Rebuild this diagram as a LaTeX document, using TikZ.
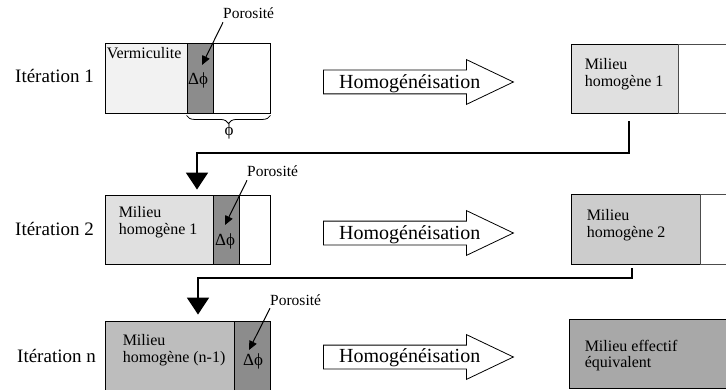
\documentclass[tikz,border=0pt]{standalone}
\usepackage{fontspec}
\setmainfont{Liberation Serif}
\usetikzlibrary{shapes.arrows,arrows.meta,decorations.pathreplacing,positioning}
\definecolor{vermi}{HTML}{F2F2F2}
\definecolor{pore}{HTML}{8C8C8C}
\definecolor{homa}{HTML}{E0E0E0}
\definecolor{homb}{HTML}{CCCCCC}
\definecolor{homn}{HTML}{BDBDBD}
\definecolor{eff}{HTML}{A8A8A8}
\tikzset{cell/.style={draw=black,line width=0.9pt,rectangle,inner sep=0pt}}
\tikzset{rest/.style={draw=black!70,line width=0.7pt,rectangle,inner sep=0pt,fill=white}}
\tikzset{iter/.style={font=\fontsize{19}{21}\selectfont,anchor=base west,inner sep=0pt}}
\tikzset{txt/.style={font=\fontsize{16}{16.5}\selectfont,align=left,anchor=north west,inner sep=0pt}}
\tikzset{dphi/.style={font=\fontsize{17}{18}\selectfont,anchor=base west,inner sep=0pt}}
\tikzset{poro/.style={font=\fontsize{15.5}{17}\selectfont,anchor=base west,inner sep=0pt}}
\tikzset{homog/.style={draw=black,line width=0.8pt,fill=white,single arrow,single arrow head extend=10.5pt,single arrow tip angle=51,minimum height=190pt,text height=11.5pt,text depth=11.5pt,inner sep=0pt,anchor=tail}}
\tikzset{homtxt/.style={font=\fontsize{20}{22}\selectfont,anchor=base west,inner sep=0pt}}
\tikzset{link/.style={line width=2pt,-{Triangle[length=17pt,width=22pt]}}}
\tikzset{pin/.style={line width=1pt,-{Triangle[length=9pt,width=8pt]}}}

\begin{document}
\begin{tikzpicture}[x=1pt,y=1pt]
    \useasboundingbox (0,0) rectangle (726,389);

    % iteration 1
    \node[iter] (it1) at (15,306) {Itération 1};
    \node[cell, fill=vermi, minimum width=82pt, minimum height=70pt] (verm1) at (146,311) {};
    \node[cell, fill=pore, minimum width=26pt, minimum height=70pt] (pore1) at (200,311) {};
    \node[cell, fill=white, minimum width=57pt, minimum height=70pt] (void1) at (241.5,311) {};
    \node[txt, below right=5pt and 2pt of verm1.north west] (tverm1) {Vermiculite};
    \node[dphi] (dphi1) at (188,304) {Δϕ};
    \node[poro] (por1) at (223,370) {Porosité};
    \coordinate (tip1) at (202,324);
    \draw[decorate, decoration={brace, mirror, amplitude=8pt}, line width=0.8pt]
        ([yshift=-2pt]pore1.south west) -- ([yshift=-2pt]void1.south east);
    \node[dphi, anchor=base] (phi1) at (229,253) {ϕ};

    \node[homog] (hom1) at (323,307) {};
    \node[homtxt] (thom1) at (339,300) {Homogénéisation};

    \node[cell, fill=homa, minimum width=107pt, minimum height=69pt] (res1) at (624.5,310.5) {};
    \node[rest, minimum width=62pt, minimum height=69pt] (rest1) at (709,310.5) {};
    \node[txt, below right=15pt and 14pt of res1.north west] (tres1) {Milieu\\homogène 1};

    % iteration 2
    \node[iter] (it2) at (15,154) {Itération 2};
    \node[cell, fill=homa, minimum width=108pt, minimum height=69pt] (mid2) at (159,159.5) {};
    \node[cell, fill=pore, minimum width=26pt, minimum height=69pt] (pore2) at (226,159.5) {};
    \node[cell, fill=white, minimum width=31pt, minimum height=69pt] (void2) at (254.5,159.5) {};
    \node[txt, below right=12pt and 14pt of mid2.north west] (tmid2) {Milieu\\homogène 1};
    \node[dphi] (dphi2) at (215,144) {Δϕ};
    \node[poro] (por2) at (247,212) {Porosité};
    \coordinate (tip2) at (225,164);

    \node[homog] (hom2) at (323,156) {};
    \node[homtxt] (thom2) at (339,150) {Homogénéisation};

    \node[cell, fill=homb, minimum width=129pt, minimum height=70pt] (res2) at (635.5,160) {};
    \node[rest, minimum width=40pt, minimum height=70pt] (rest2) at (720,160) {};
    \node[txt, below right=16pt and 16pt of res2.north west] (tres2) {Milieu\\homogène 2};

    % iteration n
    \node[iter] (it3) at (17,27) {Itération n};
    \node[cell, fill=homn, minimum width=129pt, minimum height=78pt] (mid3) at (169.5,29) {};
    \node[cell, fill=pore, minimum width=36pt, minimum height=78pt] (pore3) at (252,29) {};
    \node[txt, below right=14pt and 18pt of mid3.north west] (tmid3) {Milieu\\homogène (n-1)};
    \node[dphi] (dphi3) at (243,24) {Δϕ};
    \node[poro] (por3) at (270,84) {Porosité};
    \coordinate (tip3) at (249,39);

    \node[homog] (hom3) at (323,32) {};
    \node[homtxt] (thom3) at (339,27) {Homogénéisation};

    \node[cell, fill=eff, minimum width=171pt, minimum height=69pt] (res3) at (654.5,35.5) {};
    \node[txt, below right=21pt and 16pt of res3.north west] (tres3) {Milieu effectif\\équivalent};

    % porosity pointers
    \draw[pin] ([yshift=-3pt]por1.south west) to (tip1);
    \draw[pin] ([yshift=-3pt]por2.south west) to (tip2);
    \draw[pin] ([yshift=-3pt]por3.south west) to (tip3);

    % loops back to the next iteration
    \draw[link] ([xshift=4.5pt,yshift=-8pt]res1.south) -- ++(0,-32) -| ([xshift=38pt,yshift=5pt]mid2.north);
    \draw[link] ([xshift=-3.5pt,yshift=-4pt]res2.south) -- ++(0,-10) -| ([xshift=28.5pt,yshift=6pt]mid3.north);
\end{tikzpicture}
\end{document}
